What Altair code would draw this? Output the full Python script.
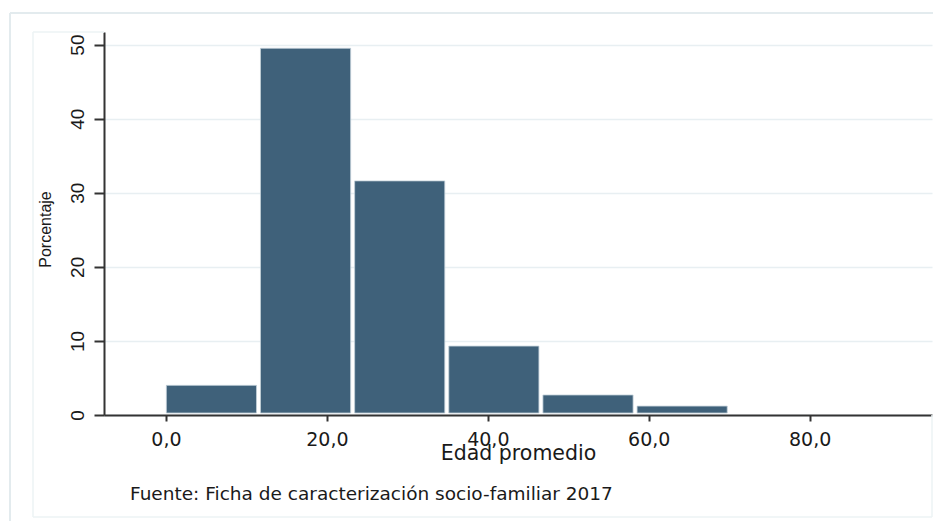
import altair as alt
import pandas as pd

# ---- data ----
bin_start = [-0.2, 11.5, 23.2, 34.9, 46.6, 58.3]
bin_end = [11.5, 23.2, 34.9, 46.6, 58.3, 70.0]
percent = [4.0, 49.5, 31.6, 9.3, 2.7, 1.2]
x_ticks = [0, 20, 40, 60, 80]
y_ticks = [0, 10, 20, 30, 40, 50]
x_title = "Edad promedio"
y_title = "Porcentaje"
footer = "Fuente: Ficha de caracterización socio-familiar 2017"

df = pd.DataFrame({"start": bin_start, "end": bin_end, "pct": percent})
one = pd.DataFrame({"k": [0]})

BAR = "#3f617a"
AXC = "#333333"
TXT = "#1a1a1a"

bars = alt.Chart(df).mark_rect(
    color=BAR, stroke="#c3d0d9", strokeWidth=0.8,
    xOffset=2, x2Offset=-2, y2Offset=-2
).encode(
    x=alt.X("start:Q",
            scale=alt.Scale(domain=[-7.7, 95.2], nice=False, zero=False),
            axis=alt.Axis(values=x_ticks,
                          labelExpr="replace(format(datum.value, '.1f'), '.', ',')",
                          grid=False, domainColor=AXC, domainWidth=2,
                          tickColor=AXC, tickWidth=2, tickSize=6,
                          labelPadding=24, labelBaseline="alphabetic",
                          labelFont="DejaVu Sans", labelFontSize=19,
                          labelColor=TXT, labelFlush=False, labelOverlap=False,
                          title=x_title, titleFont="DejaVu Sans",
                          titleFontSize=20.5, titleFontWeight="normal",
                          titleColor=TXT, titleX=414, titleY=44.5,
                          titleBaseline="alphabetic", titleAlign="center")),
    x2="end:Q",
    y=alt.Y("pct:Q",
            scale=alt.Scale(domain=[0, 51.7], nice=False, zero=True),
            axis=alt.Axis(values=y_ticks, grid=True, gridColor="#e8eff2",
                          gridWidth=1.5, domainColor=AXC, domainWidth=2,
                          tickColor=AXC, tickWidth=2, tickSize=10,
                          labelAngle=270, labelAlign="center",
                          labelBaseline="alphabetic", labelPadding=11,
                          labelFont="Liberation Sans", labelFontSize=19,
                          labelColor=TXT, labelFlush=False,
                          title=y_title, titleAngle=270, titleX=-54, titleY=197,
                          titleBaseline="alphabetic", titleAlign="center",
                          titleFont="Liberation Sans", titleFontSize=16,
                          titleFontWeight="normal", titleColor=TXT)),
    y2=alt.datum(0),
)

footer_df = pd.DataFrame({"t": [footer]})
foot = alt.Chart(footer_df).mark_text(
    align="left", baseline="alphabetic", font="DejaVu Sans",
    fontSize=18.5, color=TXT
).encode(text="t:N", x=alt.value(26), y=alt.value(468))


def frame(x, x2, y, y2, color, w):
    return alt.Chart(one).mark_rule(color=color, strokeWidth=w).encode(
        x=alt.value(x), x2=alt.value(x2), y=alt.value(y), y2=alt.value(y2))


OUT = "#e3ebee"
INN = "#edf3f5"
frames = [
    frame(-94, 830, -19, -19, OUT, 2),
    frame(-94, -94, -19, 490, OUT, 2),
    frame(-71, -71, 0, 485, INN, 1.5),
    frame(-71, 828, 485, 485, INN, 1.5),
    frame(828, 828, 383, 485, INN, 1.5),
    frame(-71, 0, 0, 0, INN, 1.5),
]

chart = alt.layer(*frames, bars, foot).properties(
    width=828, height=383,
    padding={"left": 96, "top": 24, "right": 1, "bottom": 106},
    autosize=alt.AutoSizeParams(type="none"),
    background="white",
).configure_view(stroke="transparent")

chart.save("out.html", embed_options={"renderer": "svg", "actions": False})
